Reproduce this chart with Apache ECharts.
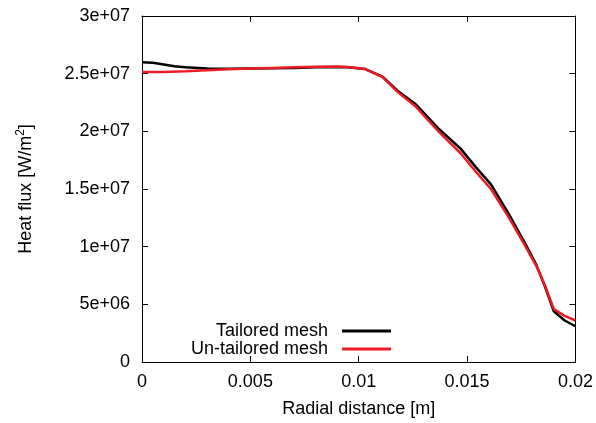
<!DOCTYPE html>
<html>
<head>
<meta charset="utf-8">
<script src="https://cdn.jsdelivr.net/npm/echarts@6/dist/echarts.min.js"></script>
<style>
  html, body { margin: 0; padding: 0; background: #fff; }
  #chart { width: 596px; height: 423px; }
</style>
</head>
<body>
<div id="chart"></div>
<script>
  // radial distance [m]
  var tailoredX = [0, 0.0005, 0.001, 0.0015, 0.002, 0.003, 0.004, 0.005, 0.006, 0.007, 0.008, 0.009, 0.0095,
    0.0103, 0.0111, 0.0118, 0.0126, 0.0137, 0.0147, 0.0154, 0.0161, 0.0169, 0.0177, 0.0182, 0.0186, 0.019, 0.0195, 0.02];
  // heat flux [W/m^2]
  var tailoredY = [26.0e6, 25.95e6, 25.8e6, 25.65e6, 25.55e6, 25.45e6, 25.42e6, 25.45e6, 25.48e6, 25.5e6, 25.55e6, 25.58e6, 25.55e6,
    25.4e6, 24.75e6, 23.5e6, 22.4e6, 20.2e6, 18.5e6, 16.9e6, 15.4e6, 12.9e6, 10.2e6, 8.4e6, 6.5e6, 4.4e6, 3.6e6, 3.1e6];

  var untailoredX = [0, 0.001, 0.002, 0.003, 0.004, 0.005, 0.006, 0.007, 0.008, 0.009, 0.0095,
    0.0103, 0.0111, 0.0118, 0.0126, 0.0137, 0.0147, 0.0154, 0.0161, 0.0169, 0.0177, 0.0182, 0.0186, 0.019, 0.0195, 0.02];
  var untailoredY = [25.15e6, 25.15e6, 25.2e6, 25.3e6, 25.38e6, 25.45e6, 25.5e6, 25.55e6, 25.6e6, 25.62e6, 25.58e6,
    25.4e6, 24.7e6, 23.4e6, 22.2e6, 19.95e6, 18.1e6, 16.5e6, 15.0e6, 12.6e6, 10.0e6, 8.3e6, 6.6e6, 4.6e6, 4.0e6, 3.6e6];

  function pairs(xs, ys) {
    return xs.map(function (x, i) { return [x, ys[i]]; });
  }

  // gnuplot style: 5e+06, 1.5e+07
  function sci(v) {
    if (v === 0) return '0';
    var s = v.toExponential();
    return s.replace(/e([+-])(\d)$/, 'e$10$2');
  }

  var font = 'Liberation Sans, Arial, sans-serif';
  var axisLine = { show: true, onZero: false, lineStyle: { color: '#000', width: 1 } };
  var tick = { show: true, inside: true, length: 6, lineStyle: { color: '#000' } };

  var chart = echarts.init(document.getElementById('chart'));
  chart.setOption({
    animation: false,
    textStyle: { fontFamily: font },
    grid: { left: 142, right: 19, top: 16, bottom: 60 },
    legend: {
      left: 191,
      top: 322,
      padding: 0,
      orient: 'vertical',
      align: 'right',
      itemWidth: 49,
      itemHeight: 3,
      itemGap: 0,
      textStyle: { fontSize: 18, lineHeight: 18, color: '#000', fontFamily: font, padding: [0, 9, 0, 0] },
      data: [{ name: 'Tailored mesh', icon: 'rect' }, { name: 'Un-tailored mesh', icon: 'rect' }]
    },
    xAxis: [{
      type: 'value',
      min: 0, max: 0.02, interval: 0.005,
      name: 'Radial distance [m]',
      nameLocation: 'middle',
      nameGap: 38,
      nameTextStyle: { fontSize: 18, color: '#000' },
      axisLine: axisLine,
      axisTick: tick,
      splitLine: { show: false },
      axisLabel: { fontSize: 18, color: '#000', margin: 11 }
    }, {
      type: 'value', position: 'top',
      min: 0, max: 0.02, interval: 0.005,
      axisLine: axisLine, axisTick: tick,
      axisLabel: { show: false }, splitLine: { show: false }
    }],
    yAxis: [{
      type: 'value',
      min: 0, max: 3e7, interval: 5e6,
      name: '{a|Heat flux [W/m}{s|2}{a|]}',
      nameLocation: 'middle',
      nameGap: 105,
      nameTextStyle: {
        color: '#000',
        rich: {
          a: { fontSize: 18, color: '#000', fontFamily: font },
          s: { fontSize: 12, color: '#000', fontFamily: font, padding: [0, 0, 10, 0] }
        }
      },
      axisLine: axisLine,
      axisTick: tick,
      splitLine: { show: false },
      axisLabel: { fontSize: 18, color: '#000', margin: 12, formatter: sci }
    }, {
      type: 'value', position: 'right',
      min: 0, max: 3e7, interval: 5e6,
      axisLine: axisLine, axisTick: tick,
      axisLabel: { show: false }, splitLine: { show: false }
    }],
    series: [{
      name: 'Tailored mesh',
      type: 'line',
      showSymbol: false,
      symbol: 'none',
      lineStyle: { color: '#000', width: 2.5 },
      itemStyle: { color: '#000' },
      data: pairs(tailoredX, tailoredY)
    }, {
      name: 'Un-tailored mesh',
      type: 'line',
      showSymbol: false,
      symbol: 'none',
      lineStyle: { color: '#ed1c24', width: 2.5 },
      itemStyle: { color: '#ed1c24' },
      data: pairs(untailoredX, untailoredY)
    }]
  });
</script>
</body>
</html>
